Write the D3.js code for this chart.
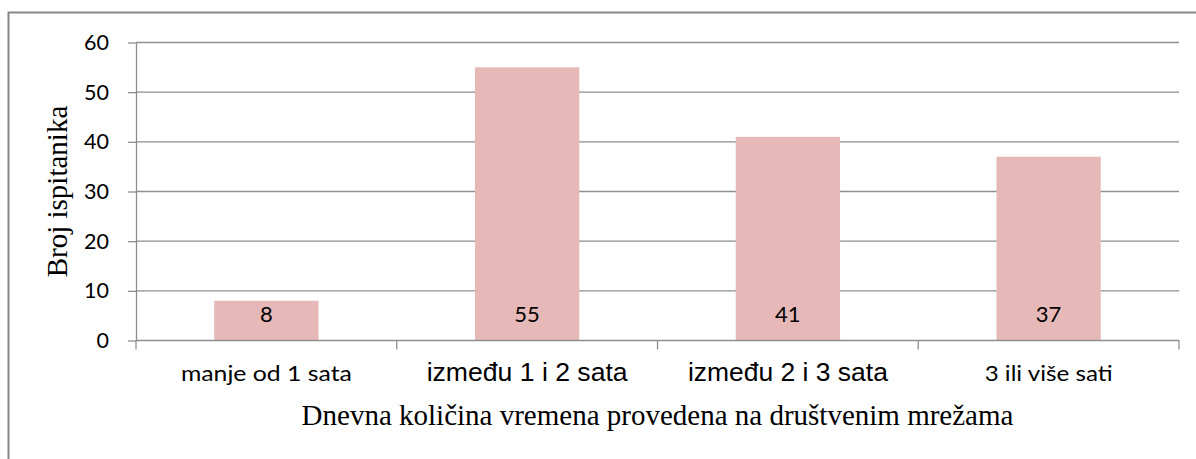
<!DOCTYPE html>
<html><head><meta charset="utf-8">
<script src="https://cdn.jsdelivr.net/npm/d3@7/dist/d3.min.js"></script>
<style>body{margin:0;background:#fff} svg{display:block}</style>
</head><body><svg id="c" width="1196" height="459"></svg>
<script>
const categories = ["manje od 1 sata", "između 1 i 2 sata", "između 2 i 3 sata", "3 ili više sati"];
const values = [8, 55, 41, 37];
const yTicks = [0, 10, 20, 30, 40, 50, 60];
const yTitle = "Broj ispitanika";
const xTitle = "Dnevna količina vremena provedena na društvenim mrežama";

// per-label styling (fonts differ in the original)
const catFonts = ["Lato", "Liberation Sans", "Liberation Sans", "Lato"];
const catSizes = [21, 26.5, 26.5, 21];
const catLens = [171, 201, 200, 128];

const svg = d3.select("#c");
const L = 136, R = 1179, T = 42.5, B = 340.5;

svg.append("rect").attr("x", 8.5).attr("y", 12.5).attr("width", 1200).attr("height", 470)
  .attr("fill", "#fff").attr("stroke", "#868686").attr("stroke-width", 2);

const x = d3.scaleBand().domain(categories).range([L, R]).paddingInner(0.6).paddingOuter(0.3);
const y = d3.scaleLinear().domain([0, 60]).range([B, T]);

// gridlines
svg.append("g").selectAll("line").data(yTicks.filter(d => d > 0)).join("line")
  .attr("x1", L).attr("x2", R).attr("y1", d => y(d)).attr("y2", d => y(d))
  .attr("stroke", "#8e8e8e").attr("stroke-width", 1.3);

// bars
svg.append("g").selectAll("rect").data(values).join("rect")
  .attr("x", (d, i) => x(categories[i])).attr("width", x.bandwidth())
  .attr("y", d => y(d)).attr("height", d => y(0) - y(d))
  .attr("fill", "#e6b8b7");

// y axis
const ya = svg.append("g").attr("transform", `translate(${L},0)`)
  .call(d3.axisLeft(y).tickValues(yTicks).tickSize(8).tickSizeOuter(0).tickPadding(19));
ya.select(".domain").attr("stroke", "#8e8e8e").attr("stroke-width", 1.3);
ya.selectAll(".tick line").attr("stroke", "#8e8e8e").attr("stroke-width", 1.3);
ya.selectAll(".tick text").attr("font-family", "Lato").attr("font-size", 21.5).attr("fill", "#000");

// x axis
const xa = svg.append("g").attr("transform", `translate(0,${B})`)
  .call(d3.axisBottom(x).tickSize(0).tickSizeOuter(0));
xa.select(".domain").remove();
xa.selectAll(".tick text")
  .attr("y", 40.5).attr("dy", 0)
  .attr("fill", "#000")
  .attr("font-family", (d, i) => catFonts[i])
  .attr("font-size", (d, i) => catSizes[i])
  .attr("textLength", (d, i) => catLens[i])
  .attr("lengthAdjust", "spacingAndGlyphs");
const half = (x.step() - x.bandwidth()) / 2;
const bounds = categories.map(c => x(c) - half).concat([x(categories[categories.length - 1]) + x.bandwidth() + half]);
svg.append("line").attr("x1", L).attr("x2", R).attr("y1", y(0)).attr("y2", y(0))
  .attr("stroke", "#8e8e8e").attr("stroke-width", 1.3);
svg.append("g").selectAll("line").data(bounds).join("line")
  .attr("x1", d => d).attr("x2", d => d).attr("y1", y(0)).attr("y2", y(0) + 9)
  .attr("stroke", "#8e8e8e").attr("stroke-width", 1.3);

// data labels (inside base)
svg.append("g").selectAll("text").data(values).join("text")
  .attr("x", (d, i) => x(categories[i]) + x.bandwidth() / 2)
  .attr("y", y(0) - 18.5)
  .attr("text-anchor", "middle").attr("font-family", "Lato").attr("font-size", 22).attr("fill", "#000")
  .text(d => d);

// titles
svg.append("text").attr("transform", `translate(67,${(T + B) / 2}) rotate(-90)`)
  .attr("text-anchor", "middle").attr("font-family", "Liberation Serif").attr("font-size", 29).attr("fill", "#000")
  .text(yTitle);
svg.append("text").attr("x", (L + R) / 2).attr("y", 425)
  .attr("text-anchor", "middle").attr("font-family", "Liberation Serif").attr("font-size", 29).attr("fill", "#000")
  .text(xTitle);
</script></body></html>
